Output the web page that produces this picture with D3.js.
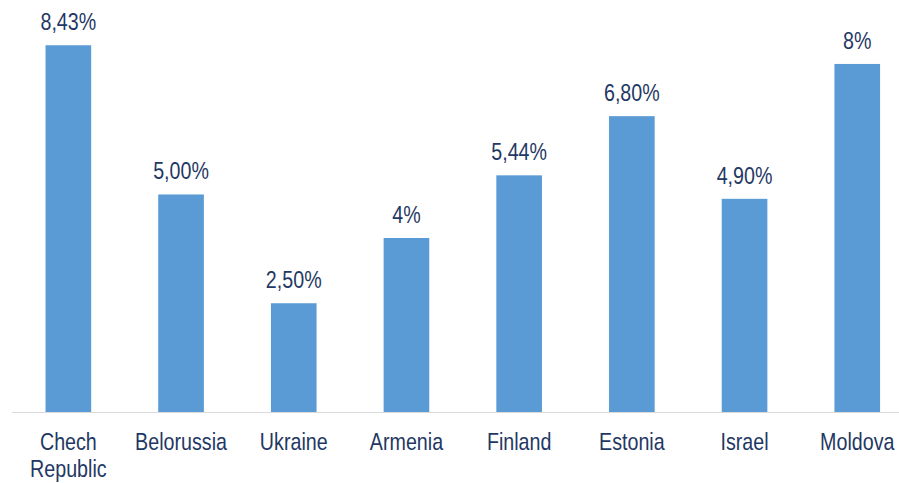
<!DOCTYPE html>
<html>
<head>
<meta charset="utf-8">
<script src="https://cdn.jsdelivr.net/npm/d3@7"></script>
<style>
  body { margin: 0; background: #fff; }
  text { font-family: "Liberation Sans Narrow", "Arial Narrow", "Liberation Sans", Arial, sans-serif; fill: #1f3864; }
</style>
</head>
<body>
<div id="chart"></div>
<script>
// data
var countries = ["Chech Republic", "Belorussia", "Ukraine", "Armenia", "Finland", "Estonia", "Israel", "Moldova"];
var values = [8.43, 5.00, 2.50, 4, 5.44, 6.80, 4.90, 8];
var valueLabels = ["8,43%", "5,00%", "2,50%", "4%", "5,44%", "6,80%", "4,90%", "8%"];

var width = 899, height = 483;
var narrow = 0.82; // squeeze to mimic a narrow face

var svg = d3.select("#chart")
  .append("svg")
  .attr("width", width)
  .attr("height", height);

var x = d3.scaleBand()
  .domain(countries)
  .range([12, 913.6])
  .paddingInner(0.595)
  .paddingOuter(0.2975);

var baseY = 412;
var y = d3.scaleLinear()
  .domain([0, 9.47])
  .range([baseY, 0]);

var data = countries.map(function(c, i) { return {name: c, v: values[i], label: valueLabels[i]}; });

function cx(d) { return x(d.name) + x.bandwidth() / 2; }

// bars
svg.selectAll("rect.bar")
  .data(data)
  .enter()
  .append("rect")
  .attr("class", "bar")
  .attr("x", function(d) { return x(d.name); })
  .attr("y", function(d) { return y(d.v); })
  .attr("width", x.bandwidth())
  .attr("height", function(d) { return baseY - y(d.v); })
  .attr("fill", "#5b9bd5");

// axis line
svg.append("line")
  .attr("x1", 12)
  .attr("x2", width)
  .attr("y1", baseY + 0.5)
  .attr("y2", baseY + 0.5)
  .attr("stroke", "#d9d9d9")
  .attr("stroke-width", 1.2);

// value labels
svg.selectAll("text.val")
  .data(data)
  .enter()
  .append("text")
  .attr("class", "val")
  .attr("transform", function(d) { return "translate(" + cx(d) + "," + (y(d.v) - 15) + ") scale(" + narrow + ",1)"; })
  .attr("text-anchor", "middle")
  .style("font-size", "24px")
  .text(function(d) { return d.label; });

// category labels
var cats = svg.selectAll("text.cat")
  .data(data)
  .enter()
  .append("text")
  .attr("class", "cat")
  .attr("transform", function(d) { return "translate(" + cx(d) + ",450) scale(" + narrow + ",1)"; })
  .attr("text-anchor", "middle")
  .style("font-size", "24px");

cats.each(function(d) {
  var t = d3.select(this);
  d.name.split(" ").forEach(function(w, i) {
    t.append("tspan")
      .attr("x", 0)
      .attr("dy", i === 0 ? 0 : 27)
      .text(w);
  });
});
</script>
</body>
</html>
